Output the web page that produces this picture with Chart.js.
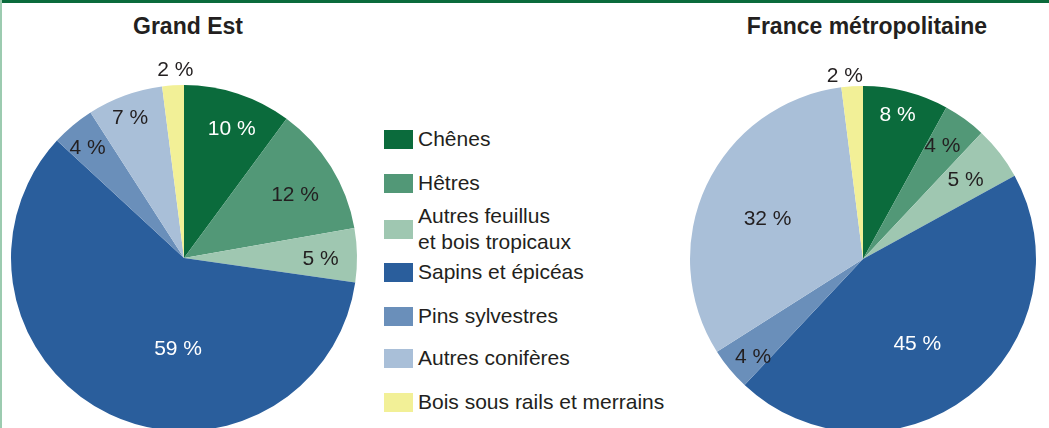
<!DOCTYPE html>
<html>
<head>
<meta charset="utf-8">
<script src="https://cdn.jsdelivr.net/npm/chart.js@4/dist/chart.umd.min.js"></script>
<style>
  html, body { margin: 0; padding: 0; }
  body {
    width: 1049px; height: 428px; overflow: hidden; position: relative;
    background: #fff; font-family: "Liberation Sans", Arial, sans-serif; color: #231f20;
  }
  .topbar { position: absolute; left: 0; top: 0; width: 1049px; height: 3px; background: #0b6b3c; }
  .leftbar { position: absolute; left: 0; top: 0; width: 2px; height: 428px; background: #9ccbb0; }
  .title { position: absolute; top: 13px; font-size: 23px; font-weight: bold; text-align: center; white-space: nowrap; }
  canvas { position: absolute; }
  #legend { position: absolute; left: 384px; top: 0; }
  .item { position: absolute; left: 0; height: 0; font-size: 21px; white-space: nowrap; }
  .item .box { position: absolute; left: 0; top: -10px; width: 29px; height: 19px; }
  .item .txt { position: absolute; left: 34px; line-height: 26px; }
</style>
</head>
<body>
<div class="topbar"></div>
<div class="leftbar"></div>
<div class="title" id="title1" style="left:88px; width:200px;"></div>
<div class="title" id="title2" style="left:717px; width:300px;"></div>
<canvas id="chartGrandEst" width="368" height="400" style="left:0px; top:40px;"></canvas>
<canvas id="chartFrance" width="368" height="400" style="left:679px; top:40px;"></canvas>
<div id="legend"></div>
<script>
const titles = ['Grand Est', 'France métropolitaine'];
const categories = ['Chênes', 'Hêtres', 'Autres feuillus\net bois tropicaux', 'Sapins et épicéas',
  'Pins sylvestres', 'Autres conifères', 'Bois sous rails et merrains'];
const grandEstValues = [10, 12, 5, 59, 4, 7, 2];
const franceValues = [8, 4, 5, 45, 4, 32, 2];

const colors = ['#0b6b3c', '#529877', '#9fc7b1', '#2a5e9c', '#6a8fba', '#a9bfd8', '#f2f097'];
const labelColors = ['#ffffff', '#231f20', '#231f20', '#ffffff', '#231f20', '#231f20', '#231f20'];

// label placement: [fraction of radius, angle shift in degrees]
const grandEstLabelPos = [[0.80, 2], [0.74, 2], [0.79, 1], [0.52, -21.7], [0.85, -1], [0.87, -1], [1.09, 1]];
const franceLabelPos = [[0.86, -1], [0.80, -1], [0.75, 0], [0.58, 5], [0.85, -2], [0.60, -2], [1.07, -2]];
const legendRowsY = [140, 184, 230, 273, 317, 359, 403];

document.getElementById('title1').textContent = titles[0];
document.getElementById('title2').textContent = titles[1];

// legend
const legend = document.getElementById('legend');
categories.forEach((name, i) => {
  const item = document.createElement('div');
  item.className = 'item';
  item.style.top = legendRowsY[i] + 'px';
  const box = document.createElement('div');
  box.className = 'box';
  box.style.background = colors[i];
  const txt = document.createElement('div');
  txt.className = 'txt';
  const lines = name.split('\n');
  txt.innerHTML = lines.join('<br>');
  txt.style.top = (-lines.length * 13 - 1) + 'px';
  item.appendChild(box);
  item.appendChild(txt);
  legend.appendChild(item);
});

const sliceLabels = {
  id: 'sliceLabels',
  afterDatasetsDraw(chart, args, opts) {
    const ctx = chart.ctx;
    const meta = chart.getDatasetMeta(0);
    const values = chart.data.datasets[0].data;
    ctx.save();
    ctx.font = '21px "Liberation Sans", Arial, sans-serif';
    ctx.textAlign = 'center';
    ctx.textBaseline = 'middle';
    meta.data.forEach((arc, i) => {
      const p = arc.getProps(['x', 'y', 'startAngle', 'endAngle', 'outerRadius'], true);
      const pos = opts.positions[i];
      const a = (p.startAngle + p.endAngle) / 2 + pos[1] * Math.PI / 180;
      const r = p.outerRadius * pos[0];
      ctx.fillStyle = labelColors[i];
      ctx.fillText(values[i] + ' %', p.x + Math.cos(a) * r, p.y + Math.sin(a) * r + 1);
    });
    ctx.restore();
  }
};

function makePie(canvasId, values, positions, padTop, padBottom) {
  return new Chart(document.getElementById(canvasId).getContext('2d'), {
    type: 'pie',
    data: {
      labels: categories,
      datasets: [{
        data: values,
        backgroundColor: colors,
        borderWidth: 0
      }]
    },
    options: {
      responsive: false,
      animation: false,
      layout: { padding: { top: padTop, bottom: padBottom, left: 0, right: 0 } },
      plugins: {
        legend: { display: false },
        tooltip: { enabled: false },
        sliceLabels: { positions: positions }
      }
    },
    plugins: [sliceLabels]
  });
}

makePie('chartGrandEst', grandEstValues, grandEstLabelPos, 45, 9);
makePie('chartFrance', franceValues, franceLabelPos, 46, 8);
</script>
</body>
</html>
